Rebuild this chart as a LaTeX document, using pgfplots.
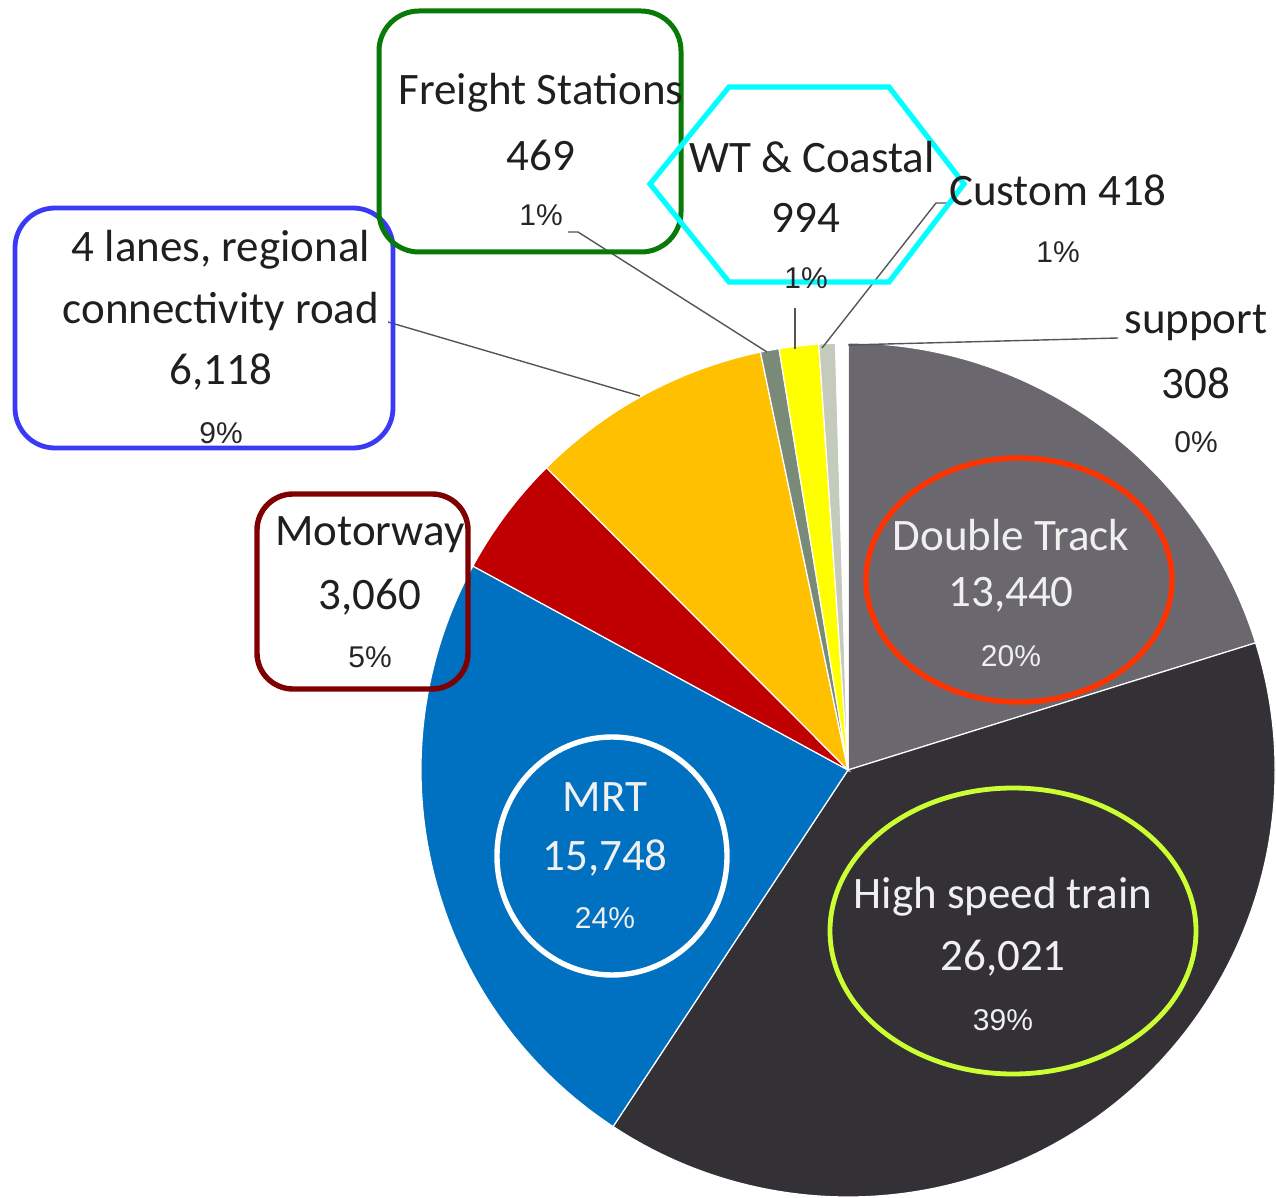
\documentclass[border=0pt]{standalone}
\usepackage{pgfplots}
\usepackage{pgfplotstable}
\pgfplotsset{compat=1.18}
\usepackage{fontspec}
\setmainfont{Carlito}
\newfontfamily\arialf{Liberation Sans}
\definecolor{cDT}{HTML}{6B676E}
\definecolor{cHS}{HTML}{333135}
\definecolor{cMRT}{HTML}{0070C0}
\definecolor{cMW}{HTML}{C00000}
\definecolor{cFL}{HTML}{FFC000}
\definecolor{cFS}{HTML}{7A8A78}
\definecolor{cWT}{HTML}{FFFF00}
\definecolor{cCU}{HTML}{C4CBBC}
\definecolor{cSU}{HTML}{FFFFFF}
\definecolor{bxBlue}{HTML}{3A3AF5}
\definecolor{bxGreen}{HTML}{087A08}
\definecolor{bxCyan}{HTML}{00FFFF}
\definecolor{bxMaroon}{HTML}{7F0000}
\definecolor{bxRed}{HTML}{FF3300}
\definecolor{bxLime}{HTML}{CCFF33}
\definecolor{leader}{HTML}{555555}
\pgfplotstableread{
name value col
DoubleTrack 13440 cDT
HighSpeed 26021 cHS
MRT 15748 cMRT
Motorway 3060 cMW
FourLanes 6118 cFL
Freight 469 cFS
WT 994 cWT
Custom 418 cCU
Support 308 cSU
}\piedata
\tikzset{
  lab/.style={font=\fontsize{22.5}{27}\selectfont, inner sep=0pt, text=black!88},
  pct/.style={font=\arialf\fontsize{15}{18}\selectfont, inner sep=0pt, text=black!85},
}
\begin{document}
\begin{tikzpicture}
\begin{axis}[hide axis, x=0.5pt, y=0.5pt, xmin=0, xmax=1276, ymin=0, ymax=1198,
  y dir=reverse, clip=false]
\coordinate (bbA) at (axis cs:0,1198);
\coordinate (bbB) at (axis cs:1276,0);
\pgfplotstablegetrowsof{\piedata}
\pgfmathtruncatemacro\lastrow{\pgfplotsretval-1}
\def\total{0}
\pgfplotsforeachungrouped \i in {0,...,\lastrow}{%
  \pgfplotstablegetelem{\i}{value}\of\piedata
  \edef\total{\fpeval{\total+\pgfplotsretval}}%
}
\def\angstart{90}
\pgfplotsforeachungrouped \i in {0,...,\lastrow}{%
  \pgfplotstablegetelem{\i}{value}\of\piedata \let\sval\pgfplotsretval
  \pgfplotstablegetelem{\i}{col}\of\piedata \let\slicecol\pgfplotsretval
  \edef\angend{\fpeval{round(\angstart-360*\sval/\total,4)}}%
  \edef\tmp{\noexpand\fill[fill=\slicecol,draw=white,line width=0.6pt] (axis cs:848,770) -- ++(\angstart:213.5pt) arc[start angle=\angstart,end angle=\angend,radius=213.5pt] -- cycle;}%
  \tmp
  \let\angstart\angend
}
% leader lines
\draw[leader, line width=0.7pt] (axis cs:388,322) -- (axis cs:640,396);
\draw[leader, line width=0.7pt] (axis cs:568,232) -- (axis cs:578,232) -- (axis cs:767,352);
\draw[leader, line width=0.7pt] (axis cs:795,308) -- (axis cs:795,349);
\draw[leader, line width=0.7pt] (axis cs:948,203) -- (axis cs:936,203) -- (axis cs:822,348);
\draw[leader, line width=0.7pt] (axis cs:1118,338) -- (axis cs:848,345);
% frames
\draw[bxBlue, line width=2.4pt, rounded corners=20pt] (axis cs:15,208) rectangle (axis cs:393,448);
\draw[bxGreen, line width=2.5pt, rounded corners=20pt] (axis cs:379,11) rectangle (axis cs:681,252);
\draw[bxCyan, line width=2.6pt] (axis cs:650,184) -- (axis cs:729,87) -- (axis cs:889,87) -- (axis cs:964,184) -- (axis cs:889,282) -- (axis cs:729,282) -- cycle;
\draw[bxMaroon, line width=2.7pt, rounded corners=18pt] (axis cs:257,494) rectangle (axis cs:468,689);
\draw[bxRed, line width=2.7pt] (axis cs:1019,580) ellipse [x radius=76.5pt, y radius=61pt];
\draw[white, line width=2.7pt] (axis cs:612,856) ellipse [x radius=57.5pt, y radius=59.5pt];
\draw[bxLime, line width=2.4pt] (axis cs:1013,931) ellipse [x radius=91.5pt, y radius=71.5pt];
% labels
\node[lab] at (axis cs:541,93) {Freight Stations};
\node[lab] at (axis cs:541,155) {469};
\node[pct] at (axis cs:541,215) {1\%};
\node[lab] at (axis cs:812,157) {WT \& Coastal};
\node[lab] at (axis cs:806,218) {994};
\node[pct] at (axis cs:806,278) {1\%};
\node[lab] at (axis cs:1058,190) {Custom 418};
\node[pct] at (axis cs:1058,252) {1\%};
\node[lab] at (axis cs:1196,323) {support};
\node[lab] at (axis cs:1196,383) {308};
\node[pct] at (axis cs:1196,442) {0\%};
\node[lab] at (axis cs:221,250) {4 lanes, regional};
\node[lab] at (axis cs:221,312) {connectivity road};
\node[lab] at (axis cs:221,372) {6,118};
\node[pct] at (axis cs:221,433) {9\%};
\node[lab] at (axis cs:370,535) {Motorway};
\node[lab] at (axis cs:370,597) {3,060};
\node[pct] at (axis cs:370,657) {5\%};
\node[lab, text=white!94!black] at (axis cs:1011,535) {Double Track};
\node[lab, text=white!94!black] at (axis cs:1011,595) {13,440};
\node[pct, text=white!94!black] at (axis cs:1011,656) {20\%};
\node[lab, text=white!94!black] at (axis cs:605,797) {MRT};
\node[lab, text=white!94!black] at (axis cs:605,858) {15,748};
\node[pct, text=white!94!black] at (axis cs:605,918) {24\%};
\node[lab, text=white!94!black] at (axis cs:1003,897) {High speed train};
\node[lab, text=white!94!black] at (axis cs:1003,958) {26,021};
\node[pct, text=white!94!black] at (axis cs:1003,1020) {39\%};
\end{axis}
\pgfresetboundingbox
\path[use as bounding box] (bbA) rectangle (bbB);
\end{tikzpicture}
\end{document}
